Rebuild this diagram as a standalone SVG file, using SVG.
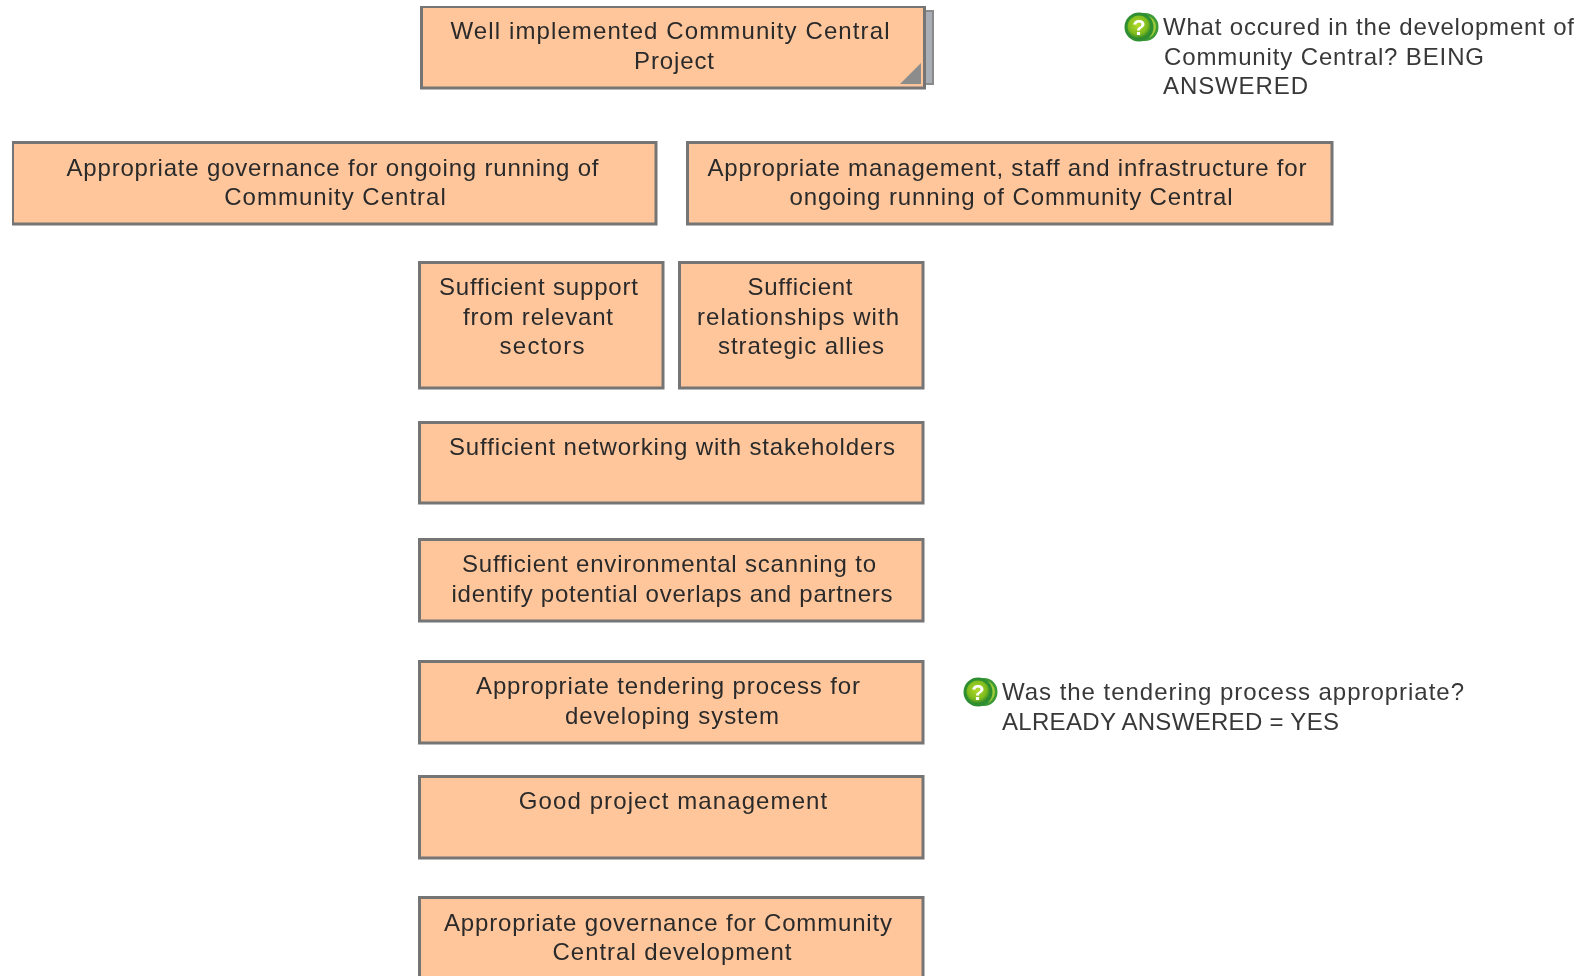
<svg xmlns="http://www.w3.org/2000/svg" width="1586" height="976" viewBox="0 0 1586 976">
<style>
.b{fill:#ffc69c;stroke:#757575;stroke-width:3}
text{font-family:"Liberation Sans",Arial,sans-serif;font-size:24px;fill:#2a2a2a;text-anchor:middle}
.n{text-anchor:start;fill:#383838}
</style>
<defs>
<filter id="soft" x="0" y="0" width="100%" height="100%"><feGaussianBlur stdDeviation="0.55"/></filter>
<radialGradient id="g" cx="0.45" cy="0.4" r="0.6"><stop offset="0" stop-color="#b5dc2a"/><stop offset="0.7" stop-color="#7dbb1e"/><stop offset="1" stop-color="#2f8a2a"/></radialGradient>
<g id="q">
<ellipse cx="20" cy="0" rx="13.500" ry="14" fill="#3c9a35"/>
<ellipse cx="21" cy="0" rx="10" ry="11" fill="#9ccc3a"/>
<circle cx="14" cy="0" r="14.500" fill="#2f8f30"/>
<circle cx="14" cy="0" r="11.500" fill="url(#g)"/>
<text x="14" y="8" style="font-size:22px;font-weight:bold;fill:#fff">?</text>
</g>
</defs>
<g id="diagram" filter="url(#soft)">
<g id="connectors"/>
<g id="n1">
<rect x="920" y="11" width="13" height="73" fill="#a9adb5" stroke="#8a8a8a" stroke-width="2"/>
<rect class="b" x="421.500" y="6.500" width="503" height="81.500"/>
<polygon points="921,84 900,84 921,63" fill="#8c8c8c"/>
<text x="670" y="39" textLength="439">Well implemented Community Central</text>
<text x="674" y="69" textLength="80">Project</text>
</g>
<g id="n2"><rect class="b" x="12.500" y="142.500" width="643.500" height="81.500"/>
<text x="332.500" y="176" textLength="532">Appropriate governance for ongoing running of</text>
<text x="335" y="205" textLength="221.500">Community Central</text></g>
<g id="n3"><rect class="b" x="687.500" y="142.500" width="644.500" height="81.500"/>
<text x="1007" y="176" textLength="599">Appropriate management, staff and infrastructure for</text>
<text x="1011" y="205" textLength="443">ongoing running of Community Central</text></g>
<g id="n4"><rect class="b" x="419.500" y="262.500" width="243.500" height="125.500"/>
<text x="538.500" y="295" textLength="199">Sufficient support</text>
<text x="538" y="325" textLength="150">from relevant</text>
<text x="542" y="354" textLength="85">sectors</text></g>
<g id="n5"><rect class="b" x="679.500" y="262.500" width="243.500" height="125.500"/>
<text x="800" y="295" textLength="105">Sufficient</text>
<text x="798" y="325" textLength="202">relationships with</text>
<text x="801" y="354" textLength="166">strategic allies</text></g>
<g id="n6"><rect class="b" x="419.500" y="422.500" width="503.500" height="80.500"/>
<text x="672" y="454.500" textLength="446">Sufficient networking with stakeholders</text></g>
<g id="n7"><rect class="b" x="419.500" y="539.500" width="503.500" height="81.500"/>
<text x="669" y="572" textLength="414">Sufficient environmental scanning to</text>
<text x="672" y="601.500" textLength="441">identify potential overlaps and partners</text></g>
<g id="n8"><rect class="b" x="419.500" y="661.500" width="503.500" height="81.500"/>
<text x="668" y="694" textLength="384">Appropriate tendering process for</text>
<text x="672" y="723.500" textLength="214">developing system</text></g>
<g id="n9"><rect class="b" x="419.500" y="776.500" width="503.500" height="81.500"/>
<text x="673" y="809" textLength="308.500">Good project management</text></g>
<g id="n10"><rect class="b" x="419.500" y="897.500" width="503.500" height="90"/>
<text x="668" y="930.500" textLength="448">Appropriate governance for Community</text>
<text x="672" y="960" textLength="239">Central development</text></g>
<g id="note1"><use href="#q" x="1125" y="27"/>
<text class="n" x="1163" y="35" textLength="411">What occured in the development of</text>
<text class="n" x="1164" y="64.500" textLength="320">Community Central? BEING</text>
<text class="n" x="1163" y="94" textLength="145">ANSWERED</text></g>
<g id="note2"><use href="#q" x="964" y="692"/>
<text class="n" x="1002" y="700" textLength="462">Was the tendering process appropriate?</text>
<text class="n" x="1002" y="729.500" textLength="337">ALREADY ANSWERED = YES</text></g>
</g>
</svg>
